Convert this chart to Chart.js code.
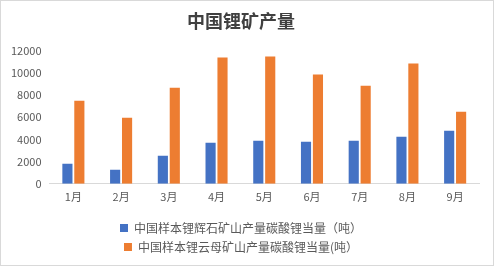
<!DOCTYPE html>
<html>
<head>
<meta charset="utf-8">
<script src="https://cdn.jsdelivr.net/npm/chart.js@4"></script>
<style>
  html, body { margin: 0; padding: 0; background: #fff; }
  #wrap { width: 492px; height: 264px; border: 1px solid #d9d9d9; position: relative; }
</style>
</head>
<body>
<div id="wrap"><canvas id="barchart"></canvas></div>
<script>
const months = ['1月', '2月', '3月', '4月', '5月', '6月', '7月', '8月', '9月']
const spodumene = [1800, 1260, 2530, 3700, 3880, 3790, 3880, 4240, 4780]
const lepidolite = [7490, 5960, 8660, 11370, 11460, 9840, 8840, 10830, 6500]
const yTicks = [0, 2000, 4000, 6000, 8000, 10000, 12000]

const fontFamily = '"Noto Sans CJK SC", "Microsoft YaHei", sans-serif'

const bar_data = {
    labels: months,
    datasets: [{
        label: '中国样本锂辉石矿山产量碳酸锂当量（吨）',
        data: spodumene,
        backgroundColor: '#4472c4',
        categoryPercentage: 0.5,
        barPercentage: 0.85
    },
        {
            label: '中国样本锂云母矿山产量碳酸锂当量(吨）',
            data: lepidolite,
            backgroundColor: '#ed7d31',
            categoryPercentage: 0.5,
            barPercentage: 0.85
        }
    ]
}

var options1 = {
    responsive: true,
    maintainAspectRatio: false,
    animation: false,
    layout: {
        padding: {left: 2, right: 14, top: 4, bottom: 2}
    },
    scales: {
        x: {
            grid: {display: false, drawTicks: false},
            border: {color: '#d9d9d9'},
            ticks: {color: '#595959', padding: 6, font: {family: fontFamily, size: 11}},
            afterFit: function (scale) {
                scale.height += 6
            }
        },
        y: {
            min: 0,
            max: 12000,
            afterBuildTicks: function (axis) {
                axis.ticks = yTicks.map(v => ({value: v}))
            },
            grid: {display: false, drawTicks: false},
            border: {display: false},
            ticks: {
                color: '#595959',
                padding: 8,
                font: {family: fontFamily, size: 11},
                callback: function (value) {
                    return String(value)
                }
            }
        }
    },
    plugins: {
        title: {
            display: true,
            text: '中国锂矿产量',
            color: '#404040',
            font: {family: fontFamily, size: 18, weight: 'bold'},
            padding: {top: 5, bottom: 19}
        },
        legend: {
            position: 'bottom',
            labels: {
                color: '#595959',
                boxWidth: 8,
                boxHeight: 8,
                padding: 7,
                font: {family: fontFamily, size: 12}
            }
        },
        tooltip: {enabled: false}
    }
}

var ctx = document.getElementById('barchart')
window.chart = new Chart(ctx, {
    type: 'bar',
    data: bar_data,
    options: options1
})
</script>
</body>
</html>
